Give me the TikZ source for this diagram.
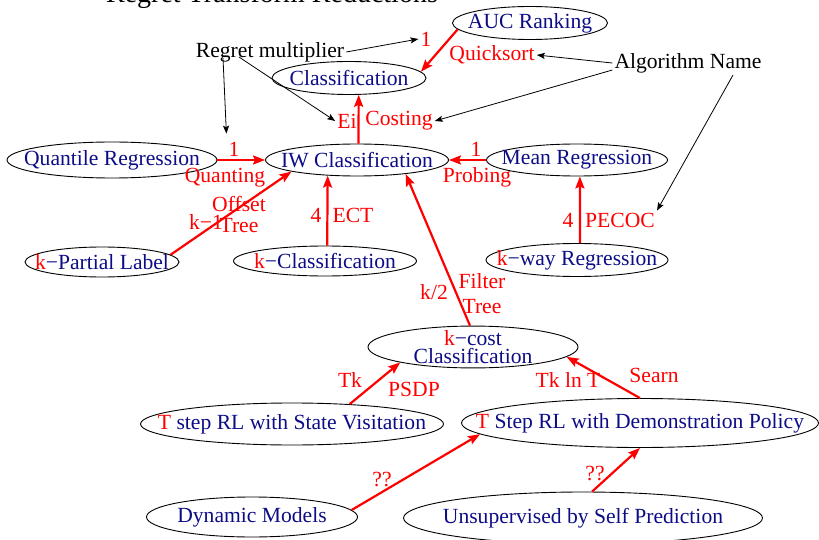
\documentclass[tikz,border=0pt]{standalone}
\usepackage{fontspec}
\setmainfont{Liberation Serif}
\usepackage{tikz}
\usetikzlibrary{arrows.meta,%
                shapes.geometric}
\definecolor{navytext}{RGB}{12,12,135}
\newcommand{\param}[1]{\textcolor{red}{#1}}

\begin{document}
\begin{tikzpicture}
  [x=1pt,y=-1pt,
   every node/.style={font=\fontsize{21.6}{24}\selectfont,inner sep=2pt},
   task/.style 2 args={draw,ellipse,line width=.9pt,inner sep=0pt,
     minimum width=#1,minimum height=#2,text=navytext},
   note/.style={text=red},
   reduction/.style={red,line width=2.2pt,-{Stealth[length=12pt,width=9pt,inset=2pt]}},
   pointer/.style={black,line width=.8pt,-{Stealth[length=8pt,width=6pt,inset=1.5pt]}}]
  \useasboundingbox (0,0) rectangle (819,540);
  \node[font=\fontsize{28}{30}\selectfont,anchor=base] (title) at (272,3) {Regret Transform Reductions};
  % problems
  \node[task={155pt}{33pt}] (auc) at (530,23) {\makebox[0pt]{AUC Ranking}};
  \node[task={154pt}{33pt}] (cls) at (349,78) {\makebox[0pt]{Classification}};
  \node[task={183pt}{32pt}] (iw) at (357,160) {\makebox[0pt]{IW Classification}};
  \node[task={210pt}{36pt}] (quant) at (112,160) {\makebox[0pt]{Quantile Regression}};
  \node[task={181pt}{32pt}] (mean) at (577,160) {\makebox[0pt]{Mean Regression}};
  \node[task={154pt}{30pt}] (kpart) at (102,262) {\makebox[0pt]{\param{k}−Partial Label}};
  \node[task={183pt}{30pt}] (kcls) at (325,261) {\makebox[0pt]{\param{k}−Classification}};
  \node[task={182pt}{33pt}] (kway) at (577,260) {\makebox[0pt]{\param{k}−way Regression}};
  \node[task={210pt}{40pt},inner ysep=-2pt] (kcost) at (473,347) {\makebox[0pt]{\shortstack{\param{k}−cost\\Classification}}};
  \node[task={303pt}{42pt}] (tstate) at (292,424) {\makebox[0pt]{\param{T} step RL with State Visitation}};
  \node[task={357pt}{49pt}] (tdemo) at (640,423) {\makebox[0pt]{\param{T} Step RL with Demonstration Policy}};
  \node[task={211pt}{40pt}] (dyn) at (252,517) {\makebox[0pt]{Dynamic Models}};
  \node[task={359pt}{52pt}] (unsup) at (583,518) {\makebox[0pt]{Unsupervised by Self Prediction}};
  % regret multipliers and algorithm names
  \node[note] (auc1) at (426,39) {1};
  \node[note] (quick) at (492,55) {Quicksort};
  \node[note] (ei) at (347,121) {Ei};
  \node[note] (costing) at (399,121) {Costing};
  \node[note] (quant1) at (234,149) {1};
  \node[note] (quanting) at (225,178) {Quanting};
  \node[note] (mean1) at (476,149) {1};
  \node[note] (probing) at (477,177) {Probing};
  \node[note] (kminus) at (206,222) {k−1};
  \node[note,align=center,font=\fontsize{21.6}{21}\selectfont] (offset) at (239,215) {Offset\\Tree};
  \node[note] (four1) at (316,215) {4};
  \node[note] (ect) at (353,215) {ECT};
  \node[note] (four2) at (568,220) {4};
  \node[note] (pecoc) at (620,220) {PECOC};
  \node[note] (k2) at (434,292) {k/2};
  \node[note,align=center,font=\fontsize{21.6}{25}\selectfont] (filter) at (482,294) {Filter\\Tree};
  \node[note] (tk) at (350,380) {Tk};
  \node[note] (psdp) at (414,389) {PSDP};
  \node[note] (tklnt) at (568,380) {Tk ln T};
  \node[note] (searn) at (654,375) {Searn};
  \node[note] (dynq) at (382,479) {??};
  \node[note] (unsupq) at (595,473) {??};
  \node (regret) at (270,52) {Regret multiplier};
  \node (algo) at (688,63) {Algorithm Name};
  % reductions
  \foreach \from/\to in {auc.185/cls.5,iw.85/cls.-60,quant.east/iw.west,mean.west/iw.east,
      kpart.6/iw.190,kcls.82/iw.208,kway.80/mean.-80,kcost.98/iw.-16,
      tstate.19/kcost.192,tdemo.north/kcost.-6,dyn.4/tdemo.184,unsup.71/tdemo.south}
    \draw[reduction] (\from) -- (\to);
  % legend pointers
  \draw[pointer] (regret.east) -- (auc1.west);
  \draw[pointer] ([xshift=-47pt,yshift=6pt]regret.south) -- ([yshift=6pt]quant1.north west);
  \draw[pointer] ([xshift=-31pt,yshift=7pt]regret.south) -- (ei.west);
  \draw[pointer] (algo.west) -- (quick.east);
  \draw[pointer] ([yshift=5pt]algo.south west) -- (costing.east);
  \draw[pointer] ([xshift=45pt]algo.south) -- (pecoc.north east);
\end{tikzpicture}
\end{document}
